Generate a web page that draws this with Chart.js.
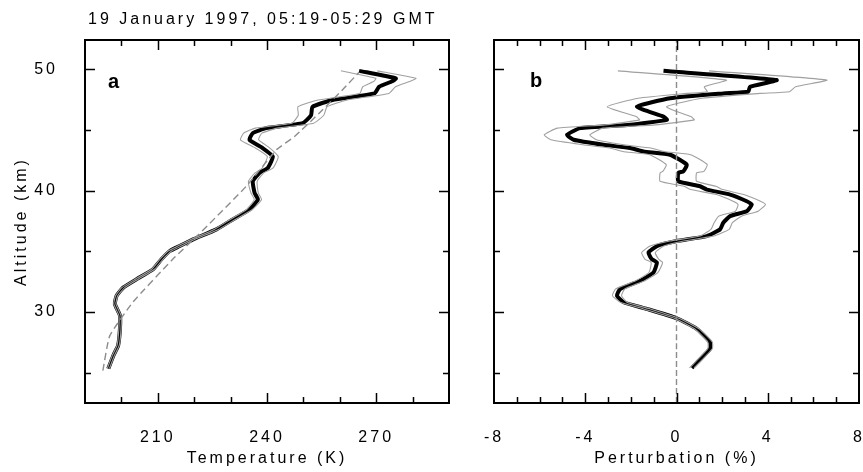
<!DOCTYPE html>
<html>
<head>
<meta charset="utf-8">
<script src="https://cdn.jsdelivr.net/npm/chart.js@4/dist/chart.umd.min.js"></script>
<style>
  body { margin: 0; background: #fff; }
  #wrap { position: relative; width: 863px; height: 472px; }
  canvas { position: absolute; top: 0; }
</style>
</head>
<body>
<div id="wrap">
  <canvas id="panelA" width="470" height="472" style="left:0"></canvas>
  <canvas id="panelB" width="393" height="472" style="left:470px"></canvas>
</div>
<script>
// Title and axis text
const titleText = '19 January 1997, 05:19-05:29 GMT';

// Altitude axis (km), shared by both panels
const altMin = 22.5;
const altMax = 52.4;
const altLabels = [30, 40, 50];
const altTicks = [25, 30, 35, 40, 45, 50];

// Panel a: temperature profile (K)
const altA = [49.86, 49.24, 49.0, 48.55, 48.0, 47.46, 46.9, 46.2, 45.55, 45.14, 44.73, 44.18,
  43.5, 42.8, 41.86, 41.45, 40.76, 39.8, 39.26, 38.44, 37.62, 36.8, 35.98, 35.43, 35.02,
  34.34, 33.52, 32.7, 32.0, 31.34, 30.66, 29.7, 28.6, 27.24, 26.42, 25.33];
const tempA = [265.3, 275.4, 274.4, 270.8, 269.5, 258.0, 252.5, 252.1, 249.8, 239.8, 236.1, 235.2,
  238.8, 241.6, 240.2, 237.9, 236.1, 236.6, 237.5, 235.2, 230.6, 226.1, 219.7, 216.0, 213.3,
  211.0, 208.7, 204.2, 200.5, 198.7, 198.2, 199.6, 199.6, 199.1, 197.8, 196.4];
const errA = [5, 5.5, 5, 4.5, 4, 4, 4, 3.5, 3, 3, 2.5, 2.5,
  2, 1.5, 1.5, 1.2, 1.2, 1, 1, 0.8, 0.7, 0.6, 0.5, 0.5, 0.5,
  0.4, 0.4, 0.4, 0.4, 0.3, 0.3, 0.3, 0.3, 0.3, 0.3, 0.3];
// reference (model) temperature
const altRef = [25.16, 28.03, 30.82, 34.34, 36.23, 40.35, 43.36, 44.43, 46.39, 48.28, 49.75];
const tempRef = [194.9, 196.8, 203.2, 214.1, 220.7, 234.3, 242.6, 247.5, 254.4, 260.7, 265.3];
const tempLabels = [210, 240, 270];
const tempTicks = [200, 210, 220, 230, 240, 250, 260, 270, 280];

// Panel b: perturbation (%)
const altB = [49.86, 49.10, 48.55, 48.14, 48.0, 47.6, 46.9, 46.09, 45.82, 45.41, 45.14, 44.59,
  44.18, 43.77, 43.5, 43.22, 42.95, 42.13, 41.58, 41.45, 40.76, 40.35, 40.08, 39.67, 39.12,
  38.85, 38.30, 37.89, 37.35, 36.80, 36.25, 35.84, 35.43, 34.89, 34.34, 34.07, 33.25, 32.57,
  31.89, 31.34, 30.8, 30.25, 29.48, 28.61, 27.52, 26.97, 25.39];
const pertB = [-0.57, 4.39, 3.22, 3.15, 2.05, -0.28, -1.74, -0.57, -0.42, -2.03, -4.22, -4.80,
  -4.51, -3.2, -2.03, -1.45, -0.28, 0.45, 0.30, 0.08, 0.08, 1.03, 1.33, 2.35, 3.08,
  3.30, 3.08, 2.35, 2.05, 1.91, 1.33, 0.01, -0.86, -1.23, -1.08, -0.86, -1.01, -1.59,
  -2.47, -2.61, -2.32, -1.30, 0.01, 0.89, 1.47, 1.47, 0.67];
const errB = [2, 2.2, 2, 1.8, 1.6, 1.4, 1.3, 1.2, 1.2, 1.1, 1.0, 1.0,
  1.0, 0.9, 0.9, 0.9, 0.9, 0.9, 0.9, 0.8, 0.8, 0.7, 0.7, 0.6, 0.6,
  0.6, 0.5, 0.5, 0.4, 0.4, 0.3, 0.3, 0.3, 0.3, 0.3, 0.25, 0.2, 0.2,
  0.2, 0.2, 0.15, 0.15, 0.1, 0.1, 0.1, 0.1, 0.1];
const pertLabels = [-8, -4, 0, 4, 8];
const pertTicks = [-7, -6, -5, -4, -3, -2, -1, 0, 1, 2, 3, 4, 5, 6, 7];

const FONT = "'Liberation Sans', Arial, Helvetica, sans-serif";
Chart.defaults.font.family = FONT;
Chart.defaults.font.size = 16;
Chart.defaults.color = '#000';

const pts = (xs, ys) => xs.map((v, i) => ({ x: v, y: ys[i] }));

// frame, inward ticks, panel letter, optional title
const framePlugin = {
  id: 'frame',
  beforeDraw(chart) {
    chart.ctx.letterSpacing = '3px';
  },
  afterDraw(chart, args, opts) {
    const { ctx, chartArea: { left, right, top, bottom }, scales: { x, y } } = chart;
    ctx.save();
    ctx.strokeStyle = '#000';
    ctx.lineWidth = 1.5;
    ctx.beginPath();
    opts.xTicks.forEach(v => {
      const px = Math.round(x.getPixelForValue(v)) + 0.5;
      const len = opts.xMajor.includes(v) ? 10 : 6;
      ctx.moveTo(px, bottom); ctx.lineTo(px, bottom - len);
      ctx.moveTo(px, top); ctx.lineTo(px, top + len);
    });
    opts.yTicks.forEach(v => {
      const py = Math.round(y.getPixelForValue(v)) + 0.5;
      const len = opts.yMajor.includes(v) ? 10 : 6;
      ctx.moveTo(left, py); ctx.lineTo(left + len, py);
      ctx.moveTo(right, py); ctx.lineTo(right - len, py);
    });
    ctx.stroke();
    ctx.lineWidth = 2;
    ctx.strokeRect(left, top, right - left, bottom - top);

    ctx.letterSpacing = '0px';
    ctx.fillStyle = '#000';
    ctx.font = 'bold 20px ' + FONT;
    ctx.textBaseline = 'alphabetic';
    ctx.fillText(opts.letter, left + opts.letterDx, top + opts.letterDy);

    if (opts.title) {
      ctx.letterSpacing = '3px';
      ctx.font = '16px ' + FONT;
      ctx.fillText(opts.title, opts.titleX, opts.titleY);
    }
    ctx.restore();
  }
};

const altScale = (showLabels) => ({
  type: 'linear',
  min: altMin,
  max: altMax,
  display: showLabels,
  grid: { display: false },
  border: { display: false },
  afterBuildTicks: s => { s.ticks = altLabels.map(v => ({ value: v })); },
  afterFit: s => {
    s.width = showLabels ? 85 : 0;
    s.paddingTop = s.paddingBottom = 0;
  },
  ticks: { padding: 19, font: { size: 16 } },
  title: { display: true, text: 'Altitude (km)', font: { size: 16 }, padding: { top: 12 } }
});

const xScale = (min, max, labels, text) => ({
  type: 'linear',
  min, max,
  grid: { display: false },
  border: { display: false },
  afterBuildTicks: s => { s.ticks = labels.map(v => ({ value: v })); },
  afterFit: s => {
    s.height = 69;
    s.paddingLeft = s.paddingRight = 0;
  },
  ticks: { padding: 17, font: { size: 16 } },
  title: { display: true, text, font: { size: 16 }, padding: { bottom: 4 } }
});

const lineDs = (data, color, width, dash) => ({
  data, showLine: true, borderColor: color, borderWidth: width,
  borderDash: dash || [], pointRadius: 0, tension: 0.15, fill: false
});

new Chart(document.getElementById('panelA'), {
  type: 'scatter',
  data: {
    datasets: [
      lineDs(pts(tempRef, altRef), '#8c8c8c', 1.4, [7, 4]),
      lineDs(pts(tempA.map((t, i) => t + errA[i]), altA), '#a0a0a0', 1.1),
      lineDs(pts(tempA.map((t, i) => t - errA[i]), altA), '#a0a0a0', 1.1),
      lineDs(pts(tempA, altA), '#000', 4)
    ]
  },
  options: {
    responsive: false,
    animation: false,
    devicePixelRatio: 1,
    layout: { autoPadding: false, padding: { left: 0, right: 21, top: 40, bottom: 0 } },
    scales: {
      x: xScale(190, 290, tempLabels, 'Temperature (K)'),
      y: altScale(true)
    },
    plugins: {
      legend: { display: false },
      tooltip: { enabled: false },
      frame: {
        xTicks: tempTicks, xMajor: tempLabels, yTicks: altTicks, yMajor: altLabels,
        letter: 'a', letterDx: 23, letterDy: 48,
        title: titleText, titleX: 88, titleY: 24
      }
    }
  },
  plugins: [framePlugin]
});

new Chart(document.getElementById('panelB'), {
  type: 'scatter',
  data: {
    datasets: [
      lineDs([{ x: 0, y: altMin }, { x: 0, y: altMax }], '#8c8c8c', 1.4, [6, 3]),
      lineDs(pts(pertB.map((p, i) => p + errB[i]), altB), '#a0a0a0', 1.1),
      lineDs(pts(pertB.map((p, i) => p - errB[i]), altB), '#a0a0a0', 1.1),
      lineDs(pts(pertB, altB), '#000', 4)
    ]
  },
  options: {
    responsive: false,
    animation: false,
    devicePixelRatio: 1,
    layout: { autoPadding: false, padding: { left: 24, right: 4, top: 40, bottom: 0 } },
    scales: {
      x: xScale(-8, 8, pertLabels, 'Perturbation (%)'),
      y: altScale(false)
    },
    plugins: {
      legend: { display: false },
      tooltip: { enabled: false },
      frame: {
        xTicks: pertTicks, xMajor: pertLabels, yTicks: altTicks, yMajor: altLabels,
        letter: 'b', letterDx: 36, letterDy: 47
      }
    }
  },
  plugins: [framePlugin]
});
</script>
</body>
</html>
